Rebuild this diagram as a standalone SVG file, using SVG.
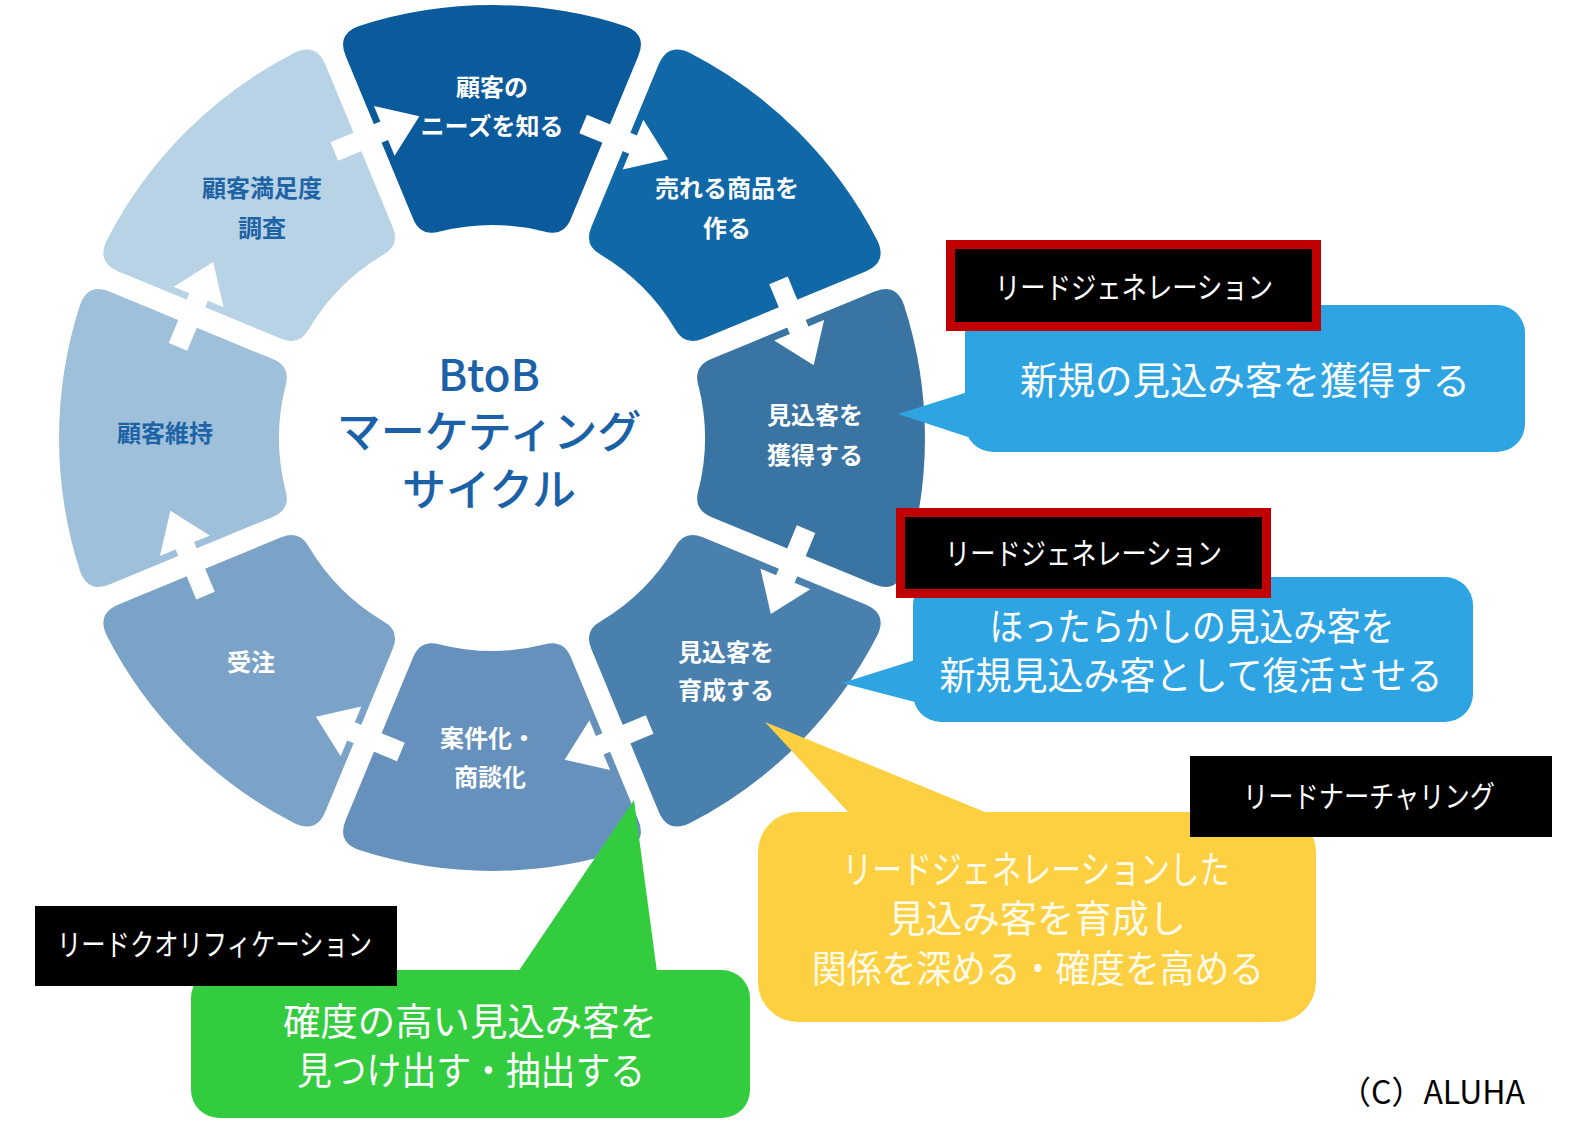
<svg xmlns="http://www.w3.org/2000/svg" width="1582" height="1142" viewBox="0 0 1582 1142">
  <defs>
    <path id="segShape" d="M -132.8,-412.1 A 433 433 0 0 1 132.8,-412.1 Q 155.49,-404.12 146.31,-381.95 L 78.89,-219.22 Q 71.24,-200.74 52.11,-206.53 A 213 213 0 0 0 -52.11,-206.53 Q -71.24,-200.74 -78.89,-219.22 L -146.31,-381.95 Q -155.49,-404.12 -132.8,-412.1 Z"/>
    <path id="arrowShape" d="M -36,-335 L 18,-335 L 18,-352 L 56,-325 L 18,-298 L 18,-315 L -36,-315 Z"/>
  </defs>
  <style>
    text { font-family: "Noto Sans CJK JP", "Noto Sans", sans-serif; }
    .seg { font-weight: 700; font-size: 24px; text-anchor: middle; fill: #ffffff; }
    .seg-dark { fill: #1d63a5; }
    .center { font-weight: 500; font-size: 44px; text-anchor: middle; fill: #1b61a7; }
    .callout { font-weight: 400; font-size: 38px; text-anchor: middle; fill: #ffffff; }
    .callout-y { fill: #fffbea; }
    .label { font-weight: 400; font-size: 30px; text-anchor: middle; fill: #ffffff; }
    .arrow { fill: #ffffff; }
  </style>
  <rect width="1582" height="1142" fill="#ffffff"/>

  <g id="node-needs">
    <use href="#segShape" transform="translate(492,438) rotate(0)" fill="#0b5a9c"/>
    <text class="seg" x="492" y="96">顧客の</text>
    <text class="seg" x="492" y="135">ニーズを知る</text>
  </g>
  <g id="node-product">
    <use href="#segShape" transform="translate(492,438) rotate(45)" fill="#1168a6"/>
    <text class="seg" x="727" y="197">売れる商品を</text>
    <text class="seg" x="727" y="237">作る</text>
  </g>
  <g id="node-acquire">
    <use href="#segShape" transform="translate(492,438) rotate(90)" fill="#3a74a3"/>
    <text class="seg" x="815" y="424">見込客を</text>
    <text class="seg" x="815" y="464">獲得する</text>
  </g>
  <g id="node-nurture">
    <use href="#segShape" transform="translate(492,438) rotate(135)" fill="#4a80ae"/>
    <text class="seg" x="726" y="661">見込客を</text>
    <text class="seg" x="726" y="699">育成する</text>
  </g>
  <g id="node-deal">
    <use href="#segShape" transform="translate(492,438) rotate(180)" fill="#6691bc"/>
    <text class="seg" x="488" y="747">案件化・</text>
    <text class="seg" x="490" y="786">商談化</text>
  </g>
  <g id="node-order">
    <use href="#segShape" transform="translate(492,438) rotate(225)" fill="#7ba3c7"/>
    <text class="seg" x="251" y="671">受注</text>
  </g>
  <g id="node-retain">
    <use href="#segShape" transform="translate(492,438) rotate(270)" fill="#9fc0da"/>
    <text class="seg seg-dark" x="165" y="442">顧客維持</text>
  </g>
  <g id="node-survey">
    <use href="#segShape" transform="translate(492,438) rotate(315)" fill="#b8d3e6"/>
    <text class="seg seg-dark" x="262" y="197">顧客満足度</text>
    <text class="seg seg-dark" x="262" y="237">調査</text>
  </g>

  <g id="connectors">
    <use href="#arrowShape" class="arrow" transform="translate(492,438) rotate(22.5)"/>
    <use href="#arrowShape" class="arrow" transform="translate(492,438) rotate(67.5)"/>
    <use href="#arrowShape" class="arrow" transform="translate(492,438) rotate(112.5)"/>
    <use href="#arrowShape" class="arrow" transform="translate(492,438) rotate(157.5)"/>
    <use href="#arrowShape" class="arrow" transform="translate(492,438) rotate(202.5)"/>
    <use href="#arrowShape" class="arrow" transform="translate(492,438) rotate(247.5)"/>
    <use href="#arrowShape" class="arrow" transform="translate(492,438) rotate(292.5)"/>
    <use href="#arrowShape" class="arrow" transform="translate(492,438) rotate(337.5)"/>
  </g>

  <g id="center-title">
    <text class="center" x="489" y="391">BtoB</text>
    <text class="center" x="489" y="448">マーケティング</text>
    <text class="center" x="489" y="506">サイクル</text>
  </g>

  <g id="callout-acquire">
    <rect x="965" y="305" width="560" height="147" rx="28" fill="#2ea5e2"/>
    <polygon points="898,414 968,392 968,437" fill="#2ea5e2"/>
    <text class="callout" x="1245" y="394" textLength="450" lengthAdjust="spacingAndGlyphs">新規の見込み客を獲得する</text>
  </g>
  <g id="callout-revive">
    <rect x="913" y="577" width="560" height="145" rx="28" fill="#2ea5e2"/>
    <polygon points="842,683 915,660 915,702" fill="#2ea5e2"/>
    <text class="callout" x="1192" y="640" textLength="405" lengthAdjust="spacingAndGlyphs">ほったらかしの見込み客を</text>
    <text class="callout" x="1191" y="689" textLength="503" lengthAdjust="spacingAndGlyphs">新規見込み客として復活させる</text>
  </g>
  <g id="callout-nurture">
    <rect x="758" y="812" width="558" height="210" rx="40" fill="#fdd041"/>
    <polygon points="765,722 850,814 990,814" fill="#fdd041"/>
    <text class="callout callout-y" x="1036" y="883" textLength="387" lengthAdjust="spacingAndGlyphs">リードジェネレーションした</text>
    <text class="callout callout-y" x="1037" y="932" textLength="298" lengthAdjust="spacingAndGlyphs">見込み客を育成し</text>
    <text class="callout callout-y" x="1038" y="982" textLength="452" lengthAdjust="spacingAndGlyphs">関係を深める・確度を高める</text>
  </g>
  <g id="callout-qualify">
    <rect x="191" y="970" width="559" height="148" rx="28" fill="#33cc3f"/>
    <polygon points="634,800 518,972 657,972" fill="#33cc3f"/>
    <text class="callout" x="470" y="1035" textLength="374" lengthAdjust="spacingAndGlyphs">確度の高い見込み客を</text>
    <text class="callout" x="471" y="1084" textLength="348" lengthAdjust="spacingAndGlyphs">見つけ出す・抽出する</text>
  </g>

  <g id="label-leadgen-1">
    <rect x="950.5" y="244.5" width="366" height="82" fill="#000000" stroke="#c00000" stroke-width="9"/>
    <text class="label" x="1134" y="298" textLength="278" lengthAdjust="spacingAndGlyphs">リードジェネレーション</text>
  </g>
  <g id="label-leadgen-2">
    <rect x="900.5" y="512.5" width="366" height="81" fill="#000000" stroke="#c00000" stroke-width="9"/>
    <text class="label" x="1083.5" y="564" textLength="277" lengthAdjust="spacingAndGlyphs">リードジェネレーション</text>
  </g>
  <g id="label-nurturing">
    <rect x="1190" y="756" width="362" height="81" fill="#000000"/>
    <text class="label" x="1369" y="807" textLength="252" lengthAdjust="spacingAndGlyphs">リードナーチャリング</text>
  </g>
  <g id="label-qualification">
    <rect x="35" y="906" width="362" height="80" fill="#000000"/>
    <text class="label" x="214.5" y="955" textLength="315" lengthAdjust="spacingAndGlyphs">リードクオリフィケーション</text>
  </g>

  <text x="1432" y="1104" font-size="32" text-anchor="middle" fill="#000000">（C）ALUHA</text>
</svg>
